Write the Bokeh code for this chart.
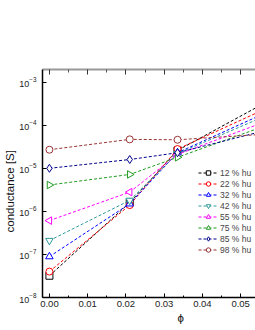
from bokeh.plotting import figure
from bokeh.models import LinearAxis, FixedTicker, PrintfTickFormatter, Range1d, Legend, LegendItem, Title
from bokeh.embed import file_html
from bokeh.resources import INLINE
import math

phi = [0.0, 0.021, 0.0335, 0.067]
series_labels = ["12 % hu", "22 % hu", "32 % hu", "42 % hu",
                 "55 % hu", "75 % hu", "85 % hu", "98 % hu"]
h12 = [3.2e-8, 1.6e-6, 2.6e-5, 1.08e-3]
h22 = [4.0e-8, 1.4e-6, 2.8e-5, 6.4e-4]
h32 = [8.9e-8, 1.5e-6, 2.3e-5, 5.1e-4]
h42 = [2.1e-7, 1.8e-6, 2.2e-5, 4.1e-4]
h55 = [6.1e-7, 2.8e-6, 2.1e-5, 2.7e-4]
h75 = [4.1e-6, 7.2e-6, 1.8e-5, 2.1e-4]
h85 = [1.0e-5, 1.6e-5, 2.3e-5, 1.3e-4]
h98 = [2.7e-5, 4.7e-5, 4.6e-5, 7.1e-5]
x_ticks = [0.0, 0.01, 0.02, 0.03, 0.04, 0.05]
x_minor = [0.005, 0.015, 0.025, 0.035, 0.045]
x_title = "ϕ"
y_title = "conductance [S]"

series = [h12, h22, h32, h42, h55, h75, h85, h98]
colors = ["#000000", "#ff0000", "#0000ff", "#2e9a9a", "#ff00ff", "#1f9a1f", "#000088", "#993333"]
markers = ["square", "circle", "triangle", "inverted_triangle", "triangle", "triangle", "diamond", "circle"]
angles = [0, 0, 0, 0, math.pi / 2, -math.pi / 2, 0, 0]
sizes = [7, 7, 7.5, 7.5, 7.5, 7.5, 8, 7]

FONT = "Liberation Sans"

p = figure(width=255, height=330, x_range=Range1d(-0.00181, 0.05389),
           y_range=Range1d(1e-8, 1.97e-3), y_axis_type="log",
           output_backend="svg", toolbar_location=None,
           min_border_left=40, min_border_top=69, min_border_bottom=33, min_border_right=0)
p.outline_line_color = None
p.grid.visible = False
p.background_fill_color = "white"

items = []
for lab, ys, c, m, a, s in zip(series_labels, series, colors, markers, angles, sizes):
    ln = p.line(phi, ys, line_color=c, line_width=1, line_dash="3 2")
    sc = p.scatter(phi, ys, marker=m, angle=a, size=s, line_color=c, fill_color="white", line_width=1)
    items.append(LegendItem(label=lab, renderers=[ln, sc]))

xa = p.xaxis[0]
xa.ticker = FixedTicker(ticks=x_ticks, minor_ticks=x_minor)
xa.formatter = PrintfTickFormatter(format="%.2f")
xa.major_tick_in = 4
xa.major_tick_out = 0
xa.minor_tick_in = 2
xa.minor_tick_out = 0
xa.axis_line_width = 1.5
xa.major_label_text_font = FONT
xa.major_label_text_font_size = "9.5px"
xa.major_label_text_color = "#222222"
xa.major_label_standoff = 3

ya = p.yaxis[0]
ya.major_tick_in = 4
ya.major_tick_out = 0
ya.minor_tick_in = 0
ya.minor_tick_out = 0
ya.axis_line_width = 1.5
ya.major_label_text_font = FONT
ya.major_label_text_font_size = "9px"
ya.major_label_text_color = "#222222"
ya.major_label_standoff = 6

top = LinearAxis(ticker=FixedTicker(ticks=x_ticks, minor_ticks=x_minor))
top.major_label_overrides = {t: "" for t in x_ticks}
top.major_label_standoff = 0
top.axis_line_color = "#999999"
top.axis_line_width = 2
top.major_tick_in = 5
top.major_tick_out = 0
top.minor_tick_in = 3
top.minor_tick_out = 0
top.major_tick_line_color = "#333333"
top.minor_tick_line_color = "#555555"
p.add_layout(top, "above")

xt = Title(text=x_title, align="left", offset=135, standoff=4, vertical_align="top",
           text_font=FONT, text_font_size="11.5px", text_font_style="normal",
           text_color="#111111")
p.add_layout(xt, "below")
yt = Title(text=y_title, align="left", offset=65, standoff=2,
           text_font=FONT, text_font_size="11.5px", text_font_style="normal",
           text_color="#111111")
p.add_layout(yt, "left")

leg = Legend(items=items, location=(156, 42))
leg.border_line_color = None
leg.background_fill_alpha = 0
leg.padding = 0
leg.margin = 0
leg.spacing = 0
leg.glyph_width = 20
leg.glyph_height = 11
leg.label_height = 11
leg.label_standoff = 2
leg.label_text_font = FONT
leg.label_text_font_size = "8.5px"
p.add_layout(leg, "center")

open("out.html", "w").write(file_html(p, INLINE))
